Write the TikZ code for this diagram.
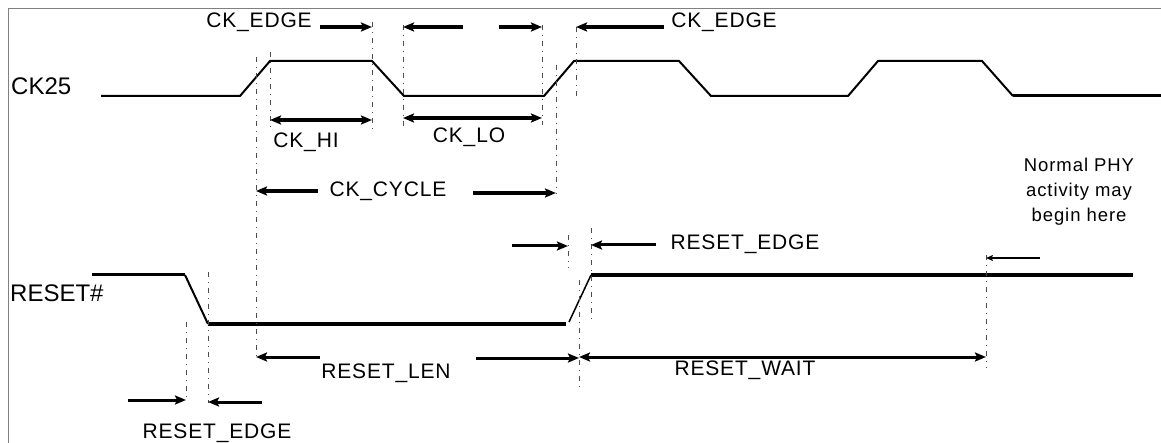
\documentclass[tikz,border=0pt]{standalone}
\usepackage{fontspec}
\setmainfont{Liberation Sans}
\usetikzlibrary{arrows.meta}

\begin{document}
\begin{tikzpicture}[x=1pt,y=-1pt]
	\tikzset{
		frame/.style={draw=gray, line width=1pt},
		wave/.style={line width=2pt, line join=miter},
		guide/.style={draw=gray!60!black, line width=1pt, dash pattern=on 5pt off 5pt on 1pt off 5pt},
		dim/.style={-{Stealth[length=11pt,width=9pt,inset=2pt]}, line width=3.5pt},
		dimboth/.style={{Stealth[length=11pt,width=9pt,inset=2pt]}-{Stealth[length=11pt,width=9pt,inset=2pt]}, line width=3.5pt},
		label/.style={inner sep=0pt, anchor=base, font=\fontsize{21}{23}\selectfont\addfontfeature{LetterSpace=4}},
		signame/.style={inner sep=0pt, anchor=base west, font=\fontsize{24}{26}\selectfont},
		note/.style={inner sep=0pt, anchor=north, align=center, font=\fontsize{18.5}{25}\selectfont\addfontfeature{LetterSpace=5}}
	}
	\useasboundingbox (0,0) rectangle (1161,443);

	% frame
	\draw[frame] (8,443) -- (8,9) -- (1161,9);

	% signals
	\node[signame] (ck25) at (11,95) {CK25};
	\node[signame] (reset) at (10,302) {RESET\#};
	\draw[wave] (101,96) -- (240,96) -- (270,61) -- (372,61) -- (404,96) -- (544,96) -- (574,61)
		-- (679,61) -- (711,96) -- (848,96) -- (878,61) -- (982,61) -- (1013,96);
	\draw[wave, line width=3pt] (1013,96) -- (1161,96);
	\draw[wave, line width=3pt] (92,275) -- (185,275);
	\draw[wave] (185,275) -- (208,324);
	\draw[wave, line width=4.5pt] (208,324) -- (566,324);
	\draw[wave, line width=1.5pt] (569,322) -- (591,275);
	\draw[wave, line width=3.5pt] (591,275) -- (1133,275);

	% guide lines
	\coordinate (rs1) at (186,322);
	\coordinate (rs2) at (208,272);
	\coordinate (ck1) at (256,57);
	\coordinate (ck2) at (270,52);
	\coordinate (ck3) at (372,22);
	\coordinate (ck4) at (403,25);
	\coordinate (ck5) at (542,25);
	\coordinate (ck6) at (556,65);
	\coordinate (ck7) at (576,27);
	\coordinate (rs3) at (568,235);
	\coordinate (rs4) at (591,228);
	\coordinate (rs5) at (579,280);
	\coordinate (act) at (986,255);
	\draw[guide] (rs1) -- ++(0,78);
	\draw[guide] (rs2) -- ++(0,131);
	\draw[guide] (ck1) -- ++(0,300);
	\draw[guide] (ck2) -- ++(0,76);
	\draw[guide] (ck3) -- ++(0,110);
	\draw[guide] (ck4) -- ++(0,105);
	\draw[guide] (ck5) -- ++(0,100);
	\draw[guide] (ck6) -- ++(0,129);
	\draw[guide] (ck7) -- ++(0,70);
	\draw[guide] (rs3) -- ++(0,33);
	\draw[guide] (rs4) -- ++(0,94);
	\draw[guide] (rs5) -- ++(0,108);
	\draw[guide] (act) -- ++(0,113);

	% labels
	\node[label] (ckedge1) at (259,28) {CK\_EDGE};
	\node[label] (ckedge2) at (724,28) {CK\_EDGE};
	\node[label] (ckhi) at (306,148) {CK\_HI};
	\node[label] (cklo) at (469,143) {CK\_LO};
	\node[label] (ckcycle) at (388,197) {CK\_CYCLE};
	\node[label] (resetedge1) at (745,250) {RESET\_EDGE};
	\node[label] (resetlen) at (386,378) {RESET\_LEN};
	\node[label] (resetwait) at (745,375) {RESET\_WAIT};
	\node[label] (resetedge2) at (217,438) {RESET\_EDGE};
	\node[note] (normal) at (1079,158) {Normal PHY\\activity may\\begin here};

	% arrows
	\coordinate (edgeA) at (320,27);
	\coordinate (edgeB) at (463,27);
	\coordinate (edgeC) at (499,27);
	\coordinate (edgeD) at (664,27);
	\draw[dim] (edgeA) -- (edgeA -| ck3);
	\draw[dim] (edgeB) -- (edgeB -| ck4);
	\draw[dim] (edgeC) -- (edgeC -| ck5);
	\draw[dim] (edgeD) -- (edgeD -| ck7);
	\coordinate (hi) at (270,120);
	\coordinate (lo) at (403,118);
	\draw[dimboth] (hi) -- (hi -| ck3);
	\draw[dimboth] (lo) -- (lo -| ck5);
	\coordinate (cycA) at (318,191);
	\coordinate (cycB) at (473,193);
	\draw[dim] (cycA) -- (cycA -| ck1);
	\draw[dim] (cycB) -- (cycB -| ck6);
	\coordinate (redgeA) at (512,246);
	\coordinate (redgeB) at (656,245);
	\draw[dim, line width=3pt] (redgeA) -- (redgeA -| rs3);
	\draw[dim, line width=3pt] (redgeB) -- (redgeB -| rs4);
	\coordinate (begin) at (1040,258);
	\draw[-{Stealth[length=7pt,width=6pt,inset=1.5pt]}, line width=2.5pt] (begin) -- (begin -| act);
	\coordinate (lenA) at (320,357);
	\coordinate (lenB) at (476,358);
	\draw[dim, line width=3pt] (lenA) -- (lenA -| ck1);
	\draw[dim, line width=3pt] (lenB) -- (lenB -| rs5);
	\coordinate (wait) at (986,357);
	\draw[dimboth, line width=3pt] (wait -| rs5) -- (wait);
	\coordinate (rlowA) at (128,400);
	\coordinate (rlowB) at (262,402);
	\draw[dim, line width=3pt] (rlowA) -- (rlowA -| rs1);
	\draw[dim, line width=3pt] (rlowB) -- (rlowB -| rs2);
\end{tikzpicture}
\end{document}
